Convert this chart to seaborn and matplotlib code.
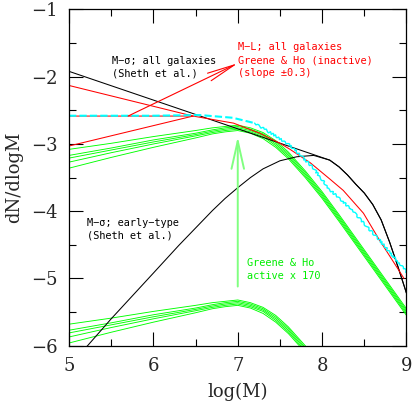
import numpy as np
import pandas as pd
import matplotlib
matplotlib.use("Agg")
import matplotlib.pyplot as plt
import seaborn as sns

# ---------------- data ----------------
# M-sigma, all galaxies (Sheth et al.)
X_ALL = [5.0, 8.09, 8.2, 8.3, 8.4, 8.5, 8.6, 8.7, 8.8, 8.9, 9.0]
Y_ALL = [-1.92, -3.24, -3.34, -3.46, -3.60, -3.73, -3.90, -4.13, -4.46, -4.83, -5.22]

# M-sigma, early-type (Sheth et al.)
X_EARLY = [5.1, 5.22, 5.5, 6.0, 6.3, 6.5, 6.7, 6.85, 7.0, 7.15, 7.3, 7.5, 7.7, 7.9, 8.09,
           8.2, 8.3, 8.4, 8.5, 8.6, 8.7, 8.8, 8.9, 9.0]
Y_EARLY = [-6.15, -6.0, -5.6, -4.92, -4.51, -4.25, -3.99, -3.81, -3.65, -3.50, -3.37, -3.25,
           -3.19, -3.17, -3.24,
           -3.34, -3.46, -3.60, -3.73, -3.90, -4.13, -4.46, -4.83, -5.22]

# M-L, all galaxies, Greene & Ho inactive (slope +-0.3)
X_RED_UP = [5.0, 6.47]
Y_RED_UP = [-2.13, -2.585]
X_RED_LO = [5.0, 6.47]
Y_RED_LO = [-3.03, -2.585]
X_RED = [5.0, 6.47, 6.95, 7.26, 7.5, 7.62, 7.86, 8.09, 8.25, 8.49, 8.68, 8.92, 8.97]
Y_RED = [-2.585, -2.585, -2.69, -2.84, -2.99, -3.08, -3.28, -3.52, -3.69, -4.03, -4.43, -4.90, -5.00]

# cyan curve
X_CYAN_FLAT = [5.0, 6.0, 6.55, 6.94, 7.2]
Y_CYAN_FLAT = [-2.58, -2.58, -2.57, -2.61, -2.69]
X_CYAN = [7.2, 7.46, 7.62, 7.89, 8.09, 8.25, 8.4, 8.53, 8.68, 8.88, 9.0]
Y_CYAN = [-2.69, -2.89, -3.02, -3.35, -3.68, -3.86, -4.05, -4.23, -4.43, -4.73, -4.90]

# Greene & Ho active x 170 (upper green band)
X_G = [5.0, 5.5, 6.0, 6.5, 6.7, 6.85, 7.0, 7.15, 7.3, 7.45, 7.6, 7.8, 8.0, 8.2, 8.4, 8.6, 8.8, 9.0]
G1 = [-3.08, -2.99, -2.89, -2.80, -2.76, -2.74, -2.72, -2.76, -2.83, -2.95, -3.12, -3.40, -3.71, -4.05, -4.40, -4.75, -5.10, -5.45]
G2 = [-3.17, -3.06, -2.94, -2.84, -2.79, -2.76, -2.74, -2.78, -2.85, -2.975, -3.145, -3.425, -3.735, -4.075, -4.425, -4.775, -5.125, -5.475]
G3 = [-3.21, -3.09, -2.97, -2.86, -2.81, -2.78, -2.76, -2.80, -2.87, -3.00, -3.17, -3.45, -3.76, -4.10, -4.45, -4.80, -5.15, -5.50]
G4 = [-3.27, -3.13, -3.00, -2.88, -2.83, -2.80, -2.78, -2.82, -2.89, -3.025, -3.195, -3.475, -3.785, -4.125, -4.475, -4.825, -5.175, -5.525]
G5 = [-3.36, -3.20, -3.05, -2.91, -2.85, -2.82, -2.80, -2.84, -2.92, -3.05, -3.22, -3.50, -3.81, -4.15, -4.50, -4.85, -5.20, -5.55]

# Greene & Ho active (lower green band)
X_A = [5.0, 5.5, 6.0, 6.5, 6.7, 6.85, 7.0, 7.15, 7.3, 7.45, 7.6, 7.8, 8.0]
A1 = [-5.68, -5.59, -5.49, -5.40, -5.36, -5.34, -5.32, -5.36, -5.43, -5.55, -5.72, -6.00, -6.31]
A2 = [-5.77, -5.66, -5.54, -5.44, -5.39, -5.36, -5.34, -5.38, -5.45, -5.575, -5.745, -6.025, -6.335]
A3 = [-5.81, -5.69, -5.57, -5.46, -5.41, -5.38, -5.36, -5.40, -5.47, -5.60, -5.77, -6.05, -6.36]
A4 = [-5.87, -5.73, -5.60, -5.48, -5.43, -5.40, -5.38, -5.42, -5.49, -5.625, -5.795, -6.075, -6.385]
A5 = [-5.96, -5.80, -5.65, -5.51, -5.45, -5.42, -5.40, -5.44, -5.52, -5.65, -5.82, -6.10, -6.41]

X_TICKS = [5, 6, 7, 8, 9]
Y_TICKS = [-6, -5, -4, -3, -2, -1]

# ---------------- style ----------------
sns.set_theme(style="ticks")
plt.rcParams["font.family"] = ["DejaVu Serif"]
plt.rcParams["axes.unicode_minus"] = True

fig = plt.figure(figsize=(4.15, 4.04), dpi=100)
ax = fig.add_axes([0.1663, 0.1443, 0.8132, 0.8322])

LW = 0.75
GREEN = "#00ff00"


def line(x, y, color, lw=LW, **kw):
    df = pd.DataFrame({"x": x, "y": y})
    return sns.lineplot(data=df, x="x", y="y", ax=ax, color=color, lw=lw,
                        estimator=None, sort=False, legend=False, **kw)


# green bands
for g in (G1, G2, G3, G4, G5):
    line(X_G, g, GREEN, lw=0.65)
for a in (A1, A2, A3, A4, A5):
    line(X_A, a, GREEN, lw=0.65)

# black curves
line(X_ALL, Y_ALL, "black")
line(X_EARLY, Y_EARLY, "black")

# red curves
line(X_RED_UP, Y_RED_UP, "red")
line(X_RED_LO, Y_RED_LO, "red")
line(X_RED, Y_RED, "red")

# cyan curve
line(X_CYAN_FLAT, Y_CYAN_FLAT, "#00ffff", lw=1.5, dashes=(3.5, 1.5))
n_before = len(ax.lines)
line(X_CYAN, Y_CYAN, "#00ffff", lw=1.0)
for ln in ax.lines[n_before:]:
    ln.set_sketch_params(scale=1.0, length=5, randomness=3)

# arrows
ax.annotate("", xy=(7.0, -1.80), xytext=(5.70, -2.585),
            arrowprops=dict(arrowstyle="->,head_length=2.0,head_width=0.3",
                            mutation_scale=10,
                            color="red", lw=0.8, shrinkA=0, shrinkB=0))
ax.annotate("", xy=(7.0, -2.89), xytext=(7.0, -5.12),
            arrowprops=dict(arrowstyle="->,head_length=2.0,head_width=0.45",
                            mutation_scale=10,
                            color="#80ff80", lw=1.4, shrinkA=0, shrinkB=0))

# labels
mono = dict(family="DejaVu Sans Mono", fontsize=7.4, va="center", ha="left")
ax.text(5.51, -1.762, "M\u2212\u03c3; all galaxies", color="black", **mono)
ax.text(5.51, -1.95, "(Sheth et al.)", color="black", **mono)
ax.text(7.006, -1.553, "M\u2212L; all galaxies", color="red", **mono)
ax.text(7.006, -1.756, "Greene & Ho (inactive)", color="red", **mono)
ax.text(7.006, -1.95, "(slope \u00b10.3)", color="red", **mono)
ax.text(5.217, -4.17, "M\u2212\u03c3; early\u2212type", color="black", **mono)
ax.text(5.217, -4.356, "(Sheth et al.)", color="black", **mono)
ax.text(7.105, -4.768, "Greene & Ho", color="#00ee00", **mono)
ax.text(7.105, -4.966, "active x 170", color="#00ee00", **mono)

# axes
ax.set_xlim(5, 9)
ax.set_ylim(-6, -1)
ax.set_xticks(X_TICKS)
ax.set_yticks(Y_TICKS)
ax.xaxis.set_minor_locator(matplotlib.ticker.MultipleLocator(0.5))
ax.yaxis.set_minor_locator(matplotlib.ticker.MultipleLocator(0.5))
ax.tick_params(which="both", direction="in", top=True, right=True,
               color="black", width=0.8, labelsize=13)
ax.tick_params(which="major", length=10, pad=8)
ax.tick_params(which="minor", length=5)
ax.set_xlabel("log(M)", fontsize=13, labelpad=6)
ax.set_ylabel("dN/dlogM", fontsize=13, labelpad=6)
for s in ax.spines.values():
    s.set_linewidth(0.9)
    s.set_color("black")
    s.set_visible(True)
ax.set_facecolor("white")
fig.patch.set_facecolor("white")

fig.savefig("out.png", dpi=100)
